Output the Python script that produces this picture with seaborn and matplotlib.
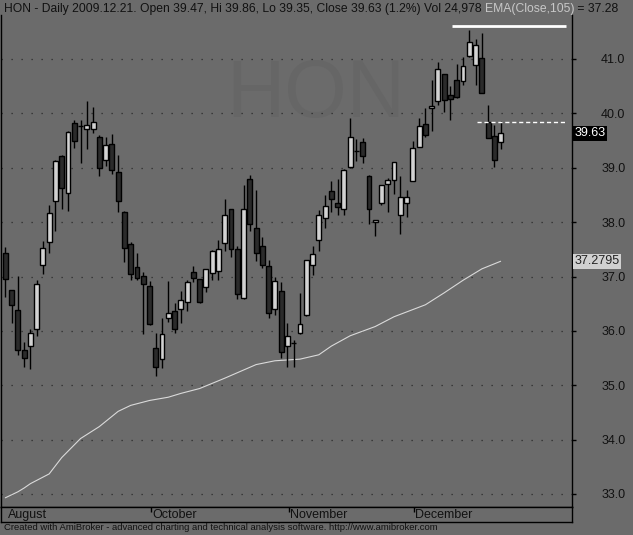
import numpy as np
import pandas as pd
import matplotlib
matplotlib.use("Agg")
import matplotlib.pyplot as plt
import seaborn as sns

# daily OHLC, HON, late Aug -> 2009.12.21
opens = [37.43, 36.75, 36.38, 35.64, 35.72, 36.03, 37.21, 37.64, 38.39, 39.21,
         38.53, 39.83, 39.76, 39.71, 39.72, 39.56, 39.15, 39.43, 38.93, 38.18,
         37.59, 37.17, 37.00, 36.82, 35.68, 35.48, 36.23, 36.36, 36.40, 36.54,
         37.08, 36.95, 36.80, 37.06, 37.10, 37.61, 38.24, 37.50, 36.60, 38.79,
         37.89, 37.57, 37.19, 36.40, 36.73, 35.72, 35.77, 35.97, 36.29, 37.21,
         37.67, 38.07, 38.57, 38.35, 38.25, 39.01, 39.30, 39.47, 38.84, 38.00,
         38.36, 38.71, 38.77, 38.14, 38.36, 38.76, 39.39, 39.81, 40.09, 40.22,
         40.72, 40.34, 40.61, 40.60, 41.06, 40.89, 41.02, 39.84, 39.59, 39.47]
highs = [37.55, 36.76, 37.01, 35.80, 36.03, 36.94, 37.65, 38.31, 39.14, 39.23,
         39.68, 39.88, 39.88, 40.23, 40.12, 39.60, 39.56, 39.62, 39.23, 38.20,
         37.63, 37.44, 37.08, 36.91, 35.96, 36.23, 36.91, 36.51, 36.73, 36.93,
         37.19, 36.96, 37.14, 37.48, 37.68, 38.42, 38.25, 37.57, 38.68, 38.86,
         38.60, 37.72, 37.30, 37.00, 36.89, 36.14, 35.83, 36.69, 37.30, 37.56,
         38.22, 38.49, 38.75, 38.79, 38.97, 39.91, 39.52, 39.54, 38.86, 38.04,
         38.69, 38.82, 39.11, 38.84, 38.60, 39.50, 39.92, 40.09, 40.62, 40.95,
         40.73, 40.51, 40.91, 41.04, 41.54, 41.37, 41.48, 40.16, 39.79, 39.86]
lows = [36.63, 36.14, 35.55, 35.33, 35.29, 35.91, 37.04, 37.43, 37.84, 38.25,
        38.21, 39.37, 39.08, 39.35, 39.63, 38.85, 39.04, 38.88, 38.18, 37.26,
        36.93, 36.93, 35.94, 36.10, 35.17, 35.31, 36.16, 35.96, 36.14, 36.36,
        36.89, 36.51, 36.71, 36.93, 36.93, 37.46, 37.35, 36.58, 36.59, 37.83,
        37.28, 37.15, 36.23, 36.29, 35.51, 35.33, 35.33, 35.94, 36.28, 37.02,
        37.46, 37.89, 38.18, 38.14, 38.14, 39.00, 39.12, 39.08, 37.96, 37.74,
        38.31, 38.18, 38.51, 37.79, 38.09, 38.75, 39.38, 39.56, 39.67, 40.16,
        40.02, 39.87, 40.28, 40.52, 41.04, 40.52, 40.38, 39.55, 39.02, 39.35]
closes = [36.95, 36.47, 35.64, 35.50, 35.97, 36.86, 37.52, 38.16, 39.12, 38.62,
          39.66, 39.49, 39.76, 39.78, 39.85, 39.00, 39.41, 38.95, 38.38, 37.52,
          37.04, 36.97, 36.86, 36.12, 35.33, 35.94, 36.32, 36.03, 36.56, 36.89,
          36.97, 36.54, 37.13, 37.46, 37.50, 38.13, 37.50, 36.67, 38.24, 37.96,
          37.43, 37.21, 36.32, 36.91, 35.62, 35.90, 35.77, 36.12, 37.30, 37.41,
          38.14, 38.29, 38.42, 38.27, 38.95, 39.56, 39.30, 39.21, 38.25, 38.03,
          38.68, 38.77, 39.10, 38.47, 38.47, 39.37, 39.77, 39.60, 40.14, 40.82,
          40.25, 40.27, 40.31, 40.87, 41.31, 41.26, 40.38, 39.55, 39.15, 39.63]

# EMA(Close,105) (bar index, value)
ema_idx = [0, 2, 3, 4, 7, 9, 12, 15, 18, 20, 23, 26, 28, 31, 35,
           40, 43, 47, 50, 52, 55, 59, 62, 67, 70, 73, 76, 79]
ema_val = [32.93, 33.04, 33.11, 33.19, 33.37, 33.67, 34.02, 34.24, 34.52, 34.63,
           34.72, 34.78, 34.85, 34.94, 35.13, 35.38, 35.45, 35.48, 35.56, 35.72,
           35.91, 36.08, 36.26, 36.48, 36.70, 36.93, 37.14, 37.28]

months = ["August", "October", "November", "December"]
month_start = [0, 24, 46, 66]

# user drawn levels: (price, from bar, to bar)
solid_level = (41.61, 71.2, 89.4)
dashed_level = (39.84, 75.2, 89.3)

last_close = 39.63
last_ema = 37.2795

df = pd.DataFrame({"open": opens, "high": highs, "low": lows, "close": closes})
df["i"] = np.arange(len(df))
df["up"] = df["close"] >= df["open"]

sns.set_theme(style="white")
plt.rcParams["font.family"] = ["Liberation Sans", "DejaVu Sans"]

BG = "#6b6b6b"
INK = "#111111"
W, H = 633, 535
fig = plt.figure(figsize=(W / 100, H / 100), dpi=100, facecolor=BG)
ax = fig.add_axes([1 / W, (H - 507) / H, 571 / W, (507 - 15) / H], facecolor=BG)

px_per_bar = 6.27
ax.set_xlim((1 - 5.3) / px_per_bar, (572 - 5.3) / px_per_bar)
ax.set_ylim(33 - 13 / 54.375, 41 + 44 / 54.375)

# watermark
ax.text(0.552, 0.835, "HON", transform=ax.transAxes, fontsize=58,
        color="#666666", ha="center", va="center", zorder=0)

for v in range(33, 42):
    ax.axhline(v, color="#2a2a2a", lw=0.9, ls=(0, (1, 7)), zorder=1)

sns.lineplot(x=ema_idx, y=ema_val, color="#dadada", lw=0.8, ax=ax, zorder=2)

ax.vlines(df["i"], df["low"], df["high"], color="black", lw=1, zorder=3)
body_lo = df[["open", "close"]].min(axis=1)
body_h = (df["close"] - df["open"]).abs()
ax.bar(df["i"], body_h, bottom=body_lo, width=0.78,
       color=np.where(df["up"], "#d2d2d2", "#2b2b2b"),
       edgecolor="black", linewidth=1, zorder=4)

ax.hlines(solid_level[0], solid_level[1], solid_level[2], color="white", lw=2, zorder=5)
ax.hlines(dashed_level[0], dashed_level[1], dashed_level[2], color="white", lw=1,
          ls=(0, (3, 2)), zorder=5)

ax.yaxis.tick_right()
ax.set_yticks(range(33, 42))
ax.set_yticklabels([f"{v:.1f}" for v in range(33, 42)])
ax.tick_params(axis="y", right=True, direction="out", length=3, width=1,
               color="black", labelcolor=INK, labelsize=9, pad=18)
ax.set_xticks([])
for s in ["left", "bottom", "right"]:
    ax.spines[s].set_color("black")
    ax.spines[s].set_linewidth(1)
ax.spines["top"].set_visible(False)

ax.annotate(f"{last_close:.2f}", xy=(1.004, last_close), xycoords=("axes fraction", "data"),
            ha="left", va="center", fontsize=9, color="white",
            bbox=dict(boxstyle="square,pad=0.12", fc="black", ec="none"))
ax.annotate(f"{last_ema:.4f}", xy=(1.004, last_ema), xycoords=("axes fraction", "data"),
            ha="left", va="center", fontsize=9, color="#222222",
            bbox=dict(boxstyle="square,pad=0.12", fc="#d0d0d0", ec="none"))

# month strip
ax2 = fig.add_axes([1 / W, (H - 522) / H, 571 / W, 15 / H], facecolor=BG)
ax2.set_xlim(ax.get_xlim())
ax2.set_ylim(0, 1)
ax2.set_xticks([])
ax2.set_yticks([])
for s in ax2.spines.values():
    s.set_color("black")
    s.set_linewidth(1)
for name, start in zip(months, month_start):
    xt = start - 0.75 if start > 0 else ax.get_xlim()[0] + 0.9
    if start > 0:
        ax2.vlines(xt, 0.65, 1.0, color="black", lw=1)
    ax2.text(xt + 0.15, 0.45, name, fontsize=9, color=INK, ha="left", va="center")

# title line in three colours
title_parts = [
    ("HON - Daily 2009.12.21. Open 39.47, Hi 39.86, Lo 39.35, Close 39.63 (1.2%) Vol 24,978 ", INK),
    ("EMA(Close,105)", "#c8c8c8"),
    (" = 37.28", INK),
]
fig.canvas.draw()
r = fig.canvas.get_renderer()
x0 = 4
for txt, col in title_parts:
    t = fig.text(x0 / W, 1 - 9 / H, txt, fontsize=8.7, color=col, ha="left", va="center")
    x0 = t.get_window_extent(r).x1

fig.text(4 / W, (H - 528) / H,
         "Created with AmiBroker - advanced charting and technical analysis software. http://www.amibroker.com",
         fontsize=6.8, color=INK, ha="left", va="center")

fig.savefig("out.png", dpi=100, facecolor=BG)
